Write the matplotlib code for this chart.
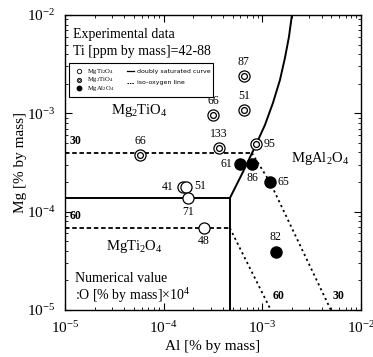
import matplotlib
matplotlib.use("Agg")
import matplotlib.pyplot as plt
from matplotlib.patches import Rectangle
from matplotlib.ticker import LogLocator, NullFormatter

plt.rcParams['font.family'] = ['Liberation Serif', 'DejaVu Serif']
plt.rcParams['mathtext.default'] = 'regular'

# ---- data ----
# MgTi2O4 (open circles)
ti2_al = [1.57e-4, 1.68e-4, 1.76e-4, 2.56e-4]
ti2_mg = [1.78e-4, 1.78e-4, 1.375e-4, 6.8e-5]
ti2_lab = ['41', '51', '71', '48']
ti2_off = [(-11, 0), (10, 1), (0, -10), (0, -9)]

# Mg2TiO4 (double circles)
m2t_al = [5.75e-5, 3.63e-4, 8.6e-4, 3.16e-4, 6.5e-4, 6.5e-4]
m2t_mg = [3.77e-4, 4.44e-4, 4.87e-4, 9.6e-4, 1.08e-3, 2.4e-3]
m2t_lab = ['66', '133', '95', '66', '51', '87']
m2t_off = [(0, 10), (0, 10), (10, 0), (0, 10), (0, 10), (0, 10)]

# MgAl2O4 (filled circles)
spl_al = [5.93e-4, 7.85e-4, 1.19e-3, 1.37e-3]
spl_mg = [3.05e-4, 3.05e-4, 2.0e-4, 3.88e-5]
spl_lab = ['61', '86', '65', '82']
spl_off = [(-10, 0), (0, -10), (10, 0), (0, 11)]

# doubly saturated curve
ds_h_al = [1e-5, 4.69e-4]
ds_h_mg = [1.375e-4, 1.375e-4]
ds_v_al = [4.69e-4, 4.69e-4]
ds_v_mg = [1.375e-4, 1e-5]
ds_c_al = [4.69e-4, 6.36e-4, 8.41e-4, 1.062e-3, 1.28e-3, 1.508e-3, 1.694e-3, 1.86e-3, 1.995e-3]
ds_c_mg = [1.375e-4, 2.53e-4, 4.54e-4, 7.6e-4, 1.273e-3, 2.18e-3, 3.65e-3, 5.97e-3, 1.0e-2]

# iso-oxygen lines (O = 30, 60 x1e-4 mass%)
o30_al = [1e-5, 7.85e-4, 1.194e-3, 4.95e-3]
o30_mg = [3.94e-4, 3.94e-4, 2.0e-4, 1e-5]
o60_al = [1e-5, 4.69e-4, 1.22e-3]
o60_mg = [6.8e-5, 6.8e-5, 1e-5]

# ---- figure ----
W, H = 373, 357
fig = plt.figure(figsize=(W / 100, H / 100), dpi=100)
L, R, T, B = 65, 361, 15, 310
ax = fig.add_axes([L / W, 1 - B / H, (R - L) / W, (B - T) / H])
ax.set_xscale('log')
ax.set_yscale('log')
ax.set_xlim(1e-5, 1e-2)
ax.set_ylim(1e-5, 1e-2)

lw = 1.4
ax.plot(ds_h_al, ds_h_mg, color='black', lw=lw)
ax.plot(ds_v_al, ds_v_mg, color='black', lw=lw)
ax.plot(ds_c_al, ds_c_mg, color='black', lw=lw)
ax.plot(o30_al[:2], o30_mg[:2], color='black', lw=1.3, ls=(0, (2.5, 1.5)))
ax.plot(o30_al[1:], o30_mg[1:], color='black', lw=1.3, ls=(0, (1.2, 1.8)))
ax.plot(o60_al[:2], o60_mg[:2], color='black', lw=1.3, ls=(0, (2.5, 1.5)))
ax.plot(o60_al[1:], o60_mg[1:], color='black', lw=1.3, ls=(0, (1.2, 1.8)))

ms = 8
ax.plot(ti2_al, ti2_mg, 'o', ms=ms, mfc='white', mec='black', mew=0.9, zorder=5)
ax.plot(m2t_al, m2t_mg, 'o', ms=ms, mfc='white', mec='black', mew=0.9, zorder=5)
ax.plot(m2t_al, m2t_mg, 'o', ms=4.2, mfc='white', mec='black', mew=0.9, zorder=6)
ax.plot(spl_al, spl_mg, 'o', ms=ms, mfc='black', mec='black', zorder=5)

def lab(xs, ys, labs, offs):
    for x, y, t, o in zip(xs, ys, labs, offs):
        ax.annotate(t, (x, y), xytext=o, textcoords='offset points',
                    ha='center', va='center', fontsize=8.5, zorder=7)

lab(ti2_al, ti2_mg, ti2_lab, ti2_off)
lab(m2t_al, m2t_mg, m2t_lab, m2t_off)
lab(spl_al, spl_mg, spl_lab, spl_off)

# iso-oxygen labels
ax.text(1.12e-5, 4.5e-4, '30', fontsize=8.5, fontweight='bold', va='bottom', ha='left')
ax.text(1.12e-5, 7.8e-5, '60', fontsize=8.5, fontweight='bold', va='bottom', ha='left')
ax.text(1.27e-3, 1.2e-5, '60', fontsize=8.5, fontweight='bold', va='bottom', ha='left')
ax.text(5.2e-3, 1.2e-5, '30', fontsize=8.5, fontweight='bold', va='bottom', ha='left')

# phase region labels
ax.text(0.25, 0.675, r'Mg$_2$TiO$_4$', transform=ax.transAxes, fontsize=10.5, ha='center', va='center')
ax.text(0.861, 0.512, r'MgAl$_2$O$_4$', transform=ax.transAxes, fontsize=10.5, ha='center', va='center')
ax.text(0.233, 0.214, r'MgTi$_2$O$_4$', transform=ax.transAxes, fontsize=10.5, ha='center', va='center')

ax.text(0.027, 0.935, 'Experimental data', transform=ax.transAxes, fontsize=10, va='center')
ax.text(0.027, 0.875, 'Ti [ppm by mass]=42-88', transform=ax.transAxes, fontsize=10, va='center')
ax.text(0.034, 0.107, 'Numerical value', transform=ax.transAxes, fontsize=10, va='center')
ax.text(0.034, 0.050, r':O [% by mass]$\times$10$^4$', transform=ax.transAxes, fontsize=10, va='center')

# legend box
ax.add_patch(Rectangle((0.0135, 0.722), 0.4865, 0.115, transform=ax.transAxes,
                       fill=True, facecolor='white', edgecolor='black', lw=0.8, zorder=8))
ly = [0.81, 0.78, 0.752]
lx = (79 - L) / (R - L)
ax.plot([lx], [ly[0]], 'o', ms=3.2, mfc='white', mec='black', mew=0.6, transform=ax.transAxes, zorder=9)
ax.plot([lx], [ly[1]], 'o', ms=3.2, mfc='white', mec='black', mew=0.6, transform=ax.transAxes, zorder=9)
ax.plot([lx], [ly[1]], 'o', ms=1.6, mfc='white', mec='black', mew=0.5, transform=ax.transAxes, zorder=9)
ax.plot([lx], [ly[2]], 'o', ms=3.2, mfc='black', mec='black', transform=ax.transAxes, zorder=9)
tx = (87 - L) / (R - L)
for y, t in zip(ly, [r'MgTi$_2$O$_4$', r'Mg$_2$TiO$_4$', r'MgAl$_2$O$_4$']):
    ax.text(tx, y, t, transform=ax.transAxes, fontsize=4.8, va='center', zorder=9)
x0, x1 = (127 - L) / (R - L), (134 - L) / (R - L)
ax.plot([x0, x1], [0.81, 0.81], color='black', lw=0.9, transform=ax.transAxes, zorder=9)
ax.plot([x0, x1], [0.77, 0.77], color='black', lw=0.7, ls=(0, (1.5, 1)), transform=ax.transAxes, zorder=9)
ax.text((137 - L) / (R - L), 0.81, 'doubly saturated curve', transform=ax.transAxes,
        fontsize=4.5, va='center', family=['DejaVu Sans'], zorder=9)
ax.text((137 - L) / (R - L), 0.77, 'iso-oxygen line', transform=ax.transAxes,
        fontsize=4.5, va='center', family=['DejaVu Sans'], zorder=9)

# ticks
ax.xaxis.set_major_locator(LogLocator(base=10, numticks=10))
ax.yaxis.set_major_locator(LogLocator(base=10, numticks=10))
ax.xaxis.set_minor_locator(LogLocator(base=10, subs=range(2, 10), numticks=10))
ax.yaxis.set_minor_locator(LogLocator(base=10, subs=range(2, 10), numticks=10))
ax.xaxis.set_minor_formatter(NullFormatter())
ax.yaxis.set_minor_formatter(NullFormatter())
ax.tick_params(which='both', direction='in', top=True, right=True)
ax.tick_params(which='major', length=5, width=0.8, labelsize=11, pad=7)
ax.tick_params(which='minor', length=2.5, width=0.6)
for s in ax.spines.values():
    s.set_linewidth(1.0)

ax.set_xlabel('Al [% by mass]', fontsize=11, labelpad=3)
ax.set_ylabel('Mg [% by mass]', fontsize=11, labelpad=0)

fig.savefig('out.png', dpi=100)
